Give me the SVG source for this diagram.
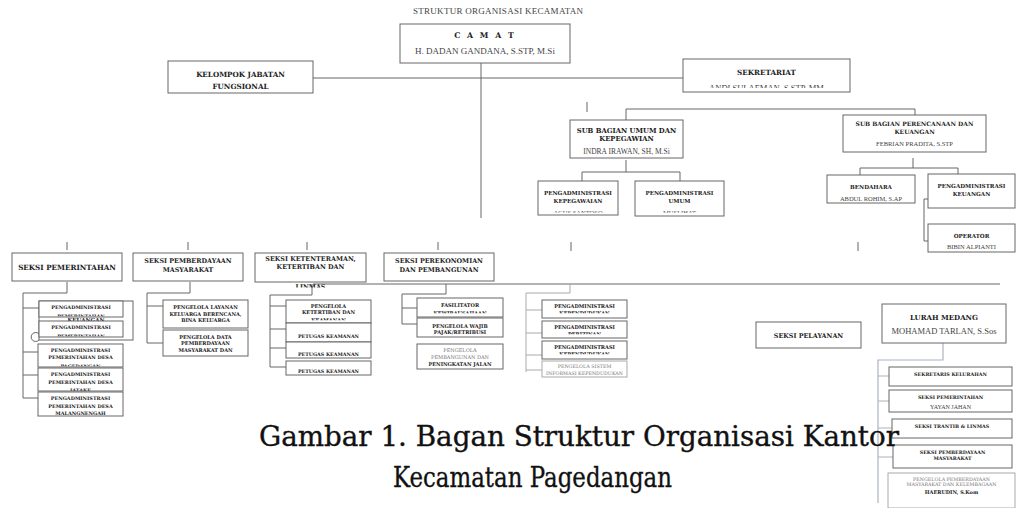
<svg xmlns="http://www.w3.org/2000/svg" width="1016" height="508" viewBox="0 0 1016 508">
<defs>
<clipPath id="cut" clipPathUnits="objectBoundingBox"><rect x="-0.2" y="-1" width="1.4" height="1.55"/></clipPath>
</defs>
<style>
.bx{fill:#fff;stroke:#666;stroke-width:1}
.lt{fill:#fff;stroke:#aaa;stroke-width:1}
.ln{fill:none;stroke:#666;stroke-width:1}
.bl{fill:none;stroke:#a9b4c2;stroke-width:1.2}
.gl{fill:none;stroke:#aaa;stroke-width:1}
.t{font-family:"DejaVu Serif",serif;font-weight:bold;fill:#222;text-anchor:middle}
.n{font-family:"Liberation Serif",serif;fill:#444;text-anchor:middle}
.g{font-family:"DejaVu Serif",serif;fill:#777;text-anchor:middle}
.c{clip-path:url(#cut)}
.cap{font-family:"DejaVu Serif",serif;fill:#111;stroke:#111;stroke-width:0.35}
</style>
<rect width="1016" height="508" fill="#fff"/>
<text x="498" y="14" class="n" font-size="9" fill="#333" textLength="170">STRUKTUR ORGANISASI KECAMATAN</text>

<g id="connectors">
<path class="ln" d="M481 63V218M313 78H683"/>
<path class="ln" d="M587 102V112M626 120V109H915V115"/>
<path class="ln" d="M626 160V172M582 181V172H680V181"/>
<path class="ln" d="M913 158V168M860 175V168H958V174"/>
<path class="ln" d="M928 199H924V241H928"/>
<path class="ln" d="M571 242V251M858 242V251"/>
<path class="ln" d="M67 242V250M188 242V250M307 242V250M438 242V250"/>
<path class="ln" d="M313 284H1000"/>
<path class="ln" d="M67 282V293H23V398M23 308H39M23 352H38M23 375H38M23 398H38"/>
<path class="ln" d="M39 334A4.5 4.5 0 1 0 39 340"/>
<path class="ln" d="M190 282V293H147V343M147 306H163M147 343H163"/>
<path class="ln" d="M312 284V295H270V367M270 306H286M270 329H286M270 348H286M270 367H286"/>
<path class="ln" d="M446 284V294H402V324M402 308H417M402 324H417"/>
<path class="gl" d="M570 284V293H526V372M526 310H542M526 333H542M526 355H542M526 370H542"/>
<path class="bl" d="M943 343V360H878V503M878 376H889M878 401H889M878 428H892M878 457H893"/>
</g>

<g id="camat"><rect class="bx" x="400" y="24" width="170" height="39"/>
<text x="485" y="38" class="t" font-size="7.8" letter-spacing="2">C A M A T</text>
<text x="485" y="54" class="n" font-size="9" fill="#333">H. DADAN GANDANA, S.STP, M.Si</text></g>

<g id="kelompok"><rect class="bx" x="168" y="61" width="145" height="32"/>
<text x="240.5" y="76.5" class="t" font-size="7.2">KELOMPOK JABATAN</text>
<text x="240.5" y="88.5" class="t" font-size="7.2">FUNGSIONAL</text></g>

<g id="sekretariat"><rect class="bx" x="683" y="59" width="167" height="33"/>
<text x="766.5" y="75" class="t" font-size="7.2">SEKRETARIAT</text>
<text x="766.5" y="90.5" class="n c" font-size="8.5">ANDI SULAEMAN, S.STP, MM</text></g>

<g id="subumum"><rect class="bx" x="570" y="120" width="113" height="38"/>
<text x="626.5" y="133" class="t" font-size="6.8">SUB BAGIAN UMUM DAN</text>
<text x="626.5" y="140.5" class="t" font-size="6.8">KEPEGAWIAN</text>
<text x="626.5" y="153.5" class="n" font-size="7.5" fill="#666">INDRA IRAWAN, SH, M.Si</text></g>

<g id="subrencana"><rect class="bx" x="843" y="115" width="143" height="37"/>
<text x="914.5" y="126" class="t" font-size="6">SUB BAGIAN PERENCANAAN DAN</text>
<text x="914.5" y="134" class="t" font-size="6">KEUANGAN</text>
<text x="914.5" y="146" class="n" font-size="6.5" fill="#888">FEBRIAN PRADITA, S.STP</text></g>

<g id="pkepegawaian"><rect class="bx" x="538" y="181" width="80" height="34"/>
<text x="578" y="195" class="t" font-size="5.6">PENGADMINISTRASI</text>
<text x="578" y="203" class="t" font-size="5.6">KEPEGAWAIAN</text>
<text x="578" y="215" class="n c" font-size="6.5" fill="#777">AGUS SANTOSO</text></g>

<g id="pumum"><rect class="bx" x="635" y="181" width="89" height="35"/>
<text x="679.5" y="195" class="t" font-size="5.6">PENGADMINISTRASI</text>
<text x="679.5" y="203" class="t" font-size="5.6">UMUM</text>
<text x="679.5" y="215" class="n c" font-size="6.5" fill="#777">MUSLIHAT</text></g>

<g id="bendahara"><rect class="bx" x="827" y="175" width="88" height="28"/>
<text x="871" y="189" class="t" font-size="5.6">BENDAHARA</text>
<text x="871" y="200.5" class="n" font-size="6.5" fill="#666">ABDUL ROHIM, S.AP</text></g>

<g id="pkeuangan"><rect class="bx" x="928" y="174" width="87" height="34"/>
<text x="971.5" y="188" class="t" font-size="5.6">PENGADMINISTRASI</text>
<text x="971.5" y="196" class="t" font-size="5.6">KEUANGAN</text></g>

<g id="operator"><rect class="bx" x="928" y="224" width="87" height="28"/>
<text x="971.5" y="238" class="t" font-size="5.6">OPERATOR</text>
<text x="971.5" y="249" class="n" font-size="6.5" fill="#666">BIBIN ALPIANTI</text></g>

<g id="seksipem"><rect class="bx" x="12" y="253" width="110" height="28"/>
<text x="67" y="269.5" class="t" font-size="7.2">SEKSI PEMERINTAHAN</text></g>

<g id="seksiberdaya"><rect class="bx" x="133" y="253" width="110" height="28"/>
<text x="188" y="263" class="t" font-size="6.4">SEKSI PEMBERDAYAAN</text>
<text x="188" y="272" class="t" font-size="6.4">MASYARAKAT</text></g>

<g id="seksitentram"><rect class="bx" x="255" y="253" width="111" height="29"/>
<text x="310.5" y="260.5" class="t" font-size="6.4">SEKSI KETENTERAMAN,</text>
<text x="310.5" y="268.5" class="t" font-size="6.4">KETERTIBAN DAN</text>
<text x="310.5" y="289" class="t c" font-size="6.4">LINMAS</text></g>

<g id="seksiekonomi"><rect class="bx" x="384" y="253" width="110" height="28"/>
<text x="439" y="263" class="t" font-size="6.4">SEKSI PEREKONOMIAN</text>
<text x="439" y="272" class="t" font-size="6.4">DAN PEMBANGUNAN</text></g>

<g id="c1a"><rect class="bx" x="39" y="301" width="94" height="39"/>
<rect class="bx" x="39" y="301" width="84" height="16"/>
<text x="81" y="309" class="t" font-size="4.9">PENGADMINISTRASI</text>
<text x="81" y="318" class="t c" font-size="4.9">PEMERINTAHAN</text>
<text x="86" y="321.5" class="t" font-size="5.5">KEUANGAN</text></g>
<g id="c1b"><rect class="bx" x="39" y="321" width="84" height="16"/>
<text x="81" y="329" class="t" font-size="4.9">PENGADMINISTRASI</text>
<text x="81" y="338" class="t c" font-size="4.9">PEMERINTAHAN</text></g>
<g id="c1c"><rect class="bx" x="38" y="344" width="85" height="23"/>
<text x="80.5" y="352" class="t" font-size="4.9">PENGADMINISTRASI</text>
<text x="80.5" y="359" class="t" font-size="4.9">PEMERINTAHAN DESA</text>
<text x="80.5" y="368" class="t c" font-size="4.9">PAGEDANGAN</text></g>
<g id="c1d"><rect class="bx" x="38" y="368" width="85" height="23"/>
<text x="80.5" y="376" class="t" font-size="4.9">PENGADMINISTRASI</text>
<text x="80.5" y="384" class="t" font-size="4.9">PEMERINTAHAN DESA</text>
<text x="80.5" y="392" class="t c" font-size="4.9">JATAKE</text></g>
<g id="c1e"><rect class="bx" x="38" y="392" width="85" height="24"/>
<text x="80.5" y="400" class="t" font-size="4.9">PENGADMINISTRASI</text>
<text x="80.5" y="407.5" class="t" font-size="4.9">PEMERINTAHAN DESA</text>
<text x="80.5" y="414.5" class="t" font-size="4.9">MALANGNENGAH</text></g>

<g id="c2a"><rect class="bx" x="163" y="300" width="85" height="28"/>
<text x="205.5" y="309" class="t" font-size="5">PENGELOLA LAYANAN</text>
<text x="205.5" y="315.5" class="t" font-size="5">KELUARGA BERENCANA,</text>
<text x="205.5" y="322" class="t" font-size="5">BINA KELUARGA</text></g>
<g id="c2b"><rect class="bx" x="163" y="330" width="85" height="26"/>
<text x="205.5" y="338.5" class="t" font-size="5">PENGELOLA DATA</text>
<text x="205.5" y="345" class="t" font-size="5">PEMBERDAYAAN</text>
<text x="205.5" y="351.5" class="t" font-size="5">MASYARAKAT DAN</text></g>

<g id="c3a"><rect class="bx" x="286" y="300" width="85" height="23"/>
<text x="328.5" y="307.5" class="t" font-size="5">PENGELOLA</text>
<text x="328.5" y="314" class="t" font-size="5">KETERTIBAN DAN</text>
<text x="328.5" y="322" class="t c" font-size="5">KEAMANAN</text></g>
<g id="c3b"><rect class="bx" x="286" y="323" width="85" height="19"/>
<text x="328.5" y="338" class="t" font-size="4.8">PETUGAS KEAMANAN</text></g>
<g id="c3c"><rect class="bx" x="286" y="342" width="85" height="16"/>
<text x="328.5" y="355.5" class="t" font-size="4.8">PETUGAS KEAMANAN</text></g>
<g id="c3d"><rect class="bx" x="286" y="361" width="85" height="14"/>
<text x="328.5" y="373" class="t" font-size="4.8">PETUGAS KEAMANAN</text></g>

<g id="c4a"><rect class="bx" x="417" y="298" width="86" height="19"/>
<text x="460" y="306.5" class="t" font-size="5">FASILITATOR</text>
<text x="460" y="315" class="t c" font-size="5">KEWIRAUSAHAAN</text></g>
<g id="c4b"><rect class="bx" x="417" y="318" width="86" height="19"/>
<text x="460" y="327.5" class="t" font-size="5">PENGELOLA WAJIB</text>
<text x="460" y="334" class="t" font-size="5">PAJAK/RETRIBUSI</text></g>
<g id="c4c"><rect class="bx" x="417" y="344" width="86" height="25"/>
<text x="460" y="352" class="g" font-size="5">PENGELOLA</text>
<text x="460" y="359" class="g" font-size="5">PEMBANGUNAN DAN</text>
<text x="460" y="366" class="t" font-size="5">PENINGKATAN JALAN</text></g>

<g id="c5a"><rect class="bx" x="542" y="300" width="85" height="18"/>
<text x="584.5" y="307.5" class="t" font-size="5">PENGADMINISTRASI</text>
<text x="584.5" y="315" class="t c" font-size="5">KEPENDUDUKAN</text></g>
<g id="c5b"><rect class="bx" x="542" y="321" width="85" height="17"/>
<text x="584.5" y="328.5" class="t" font-size="5">PENGADMINISTRASI</text>
<text x="584.5" y="336" class="t c" font-size="5">PERIZINAN</text></g>
<g id="c5c"><rect class="bx" x="542" y="341" width="85" height="18"/>
<text x="584.5" y="348.5" class="t" font-size="5">PENGADMINISTRASI</text>
<text x="584.5" y="356" class="t c" font-size="5">KEPENDUDUKAN</text></g>
<g id="c5d"><rect class="lt" x="542" y="361" width="85" height="16"/>
<text x="584.5" y="368" class="g" font-size="4.8">PENGELOLA SISTEM</text>
<text x="584.5" y="374.5" class="g" font-size="4.8">INFORMASI KEPENDUDUKAN</text></g>

<g id="pelayanan"><rect class="bx" x="756" y="322" width="105" height="26"/>
<text x="808.5" y="338" class="t" font-size="6.4">SEKSI PELAYANAN</text></g>

<g id="lurah"><rect class="bx" x="882" y="304" width="124" height="39"/>
<text x="944" y="320" class="t" font-size="7">LURAH MEDANG</text>
<text x="944" y="334" class="n" font-size="8.5">MOHAMAD TARLAN, S.Sos</text></g>

<g id="l1"><rect class="bx" x="889" y="367" width="123" height="19"/>
<text x="950.5" y="375.5" class="t" font-size="4.8">SEKRETARIS KELURAHAN</text></g>
<g id="l2"><rect class="bx" x="889" y="390" width="123" height="22"/>
<text x="950.5" y="399" class="t" font-size="4.8">SEKSI PEMERINTAHAN</text>
<text x="950.5" y="409" class="n" font-size="6" fill="#666">YAYAN JAHAN</text></g>
<g id="l3"><rect class="bx" x="892" y="419" width="120" height="19"/>
<text x="952" y="428" class="t" font-size="4.8">SEKSI TRANTIB &amp; LINMAS</text></g>
<g id="l4"><rect class="bx" x="893" y="445" width="119" height="23"/>
<text x="952.5" y="453.5" class="t" font-size="4.8">SEKSI PEMBERDAYAAN</text>
<text x="952.5" y="460" class="t" font-size="4.8">MASYARAKAT</text></g>
<g id="l5"><rect class="lt" x="888" y="473" width="127" height="35"/>
<text x="951.5" y="480.5" class="g" font-size="4.8">PENGELOLA PEMBERDAYAAN</text>
<text x="951.5" y="486" class="g" font-size="4.8">MASYARAKAT DAN KELEMBAGAAN</text>
<text x="951.5" y="494" class="t" font-size="5">HAERUDIN, S.Kom</text></g>

<text x="259" y="446" class="cap" font-size="27" textLength="640" lengthAdjust="spacingAndGlyphs">Gambar 1. Bagan Struktur Organisasi Kantor</text>
<text x="393" y="487" class="cap" font-size="27" textLength="279" lengthAdjust="spacingAndGlyphs">Kecamatan Pagedangan</text>
</svg>
